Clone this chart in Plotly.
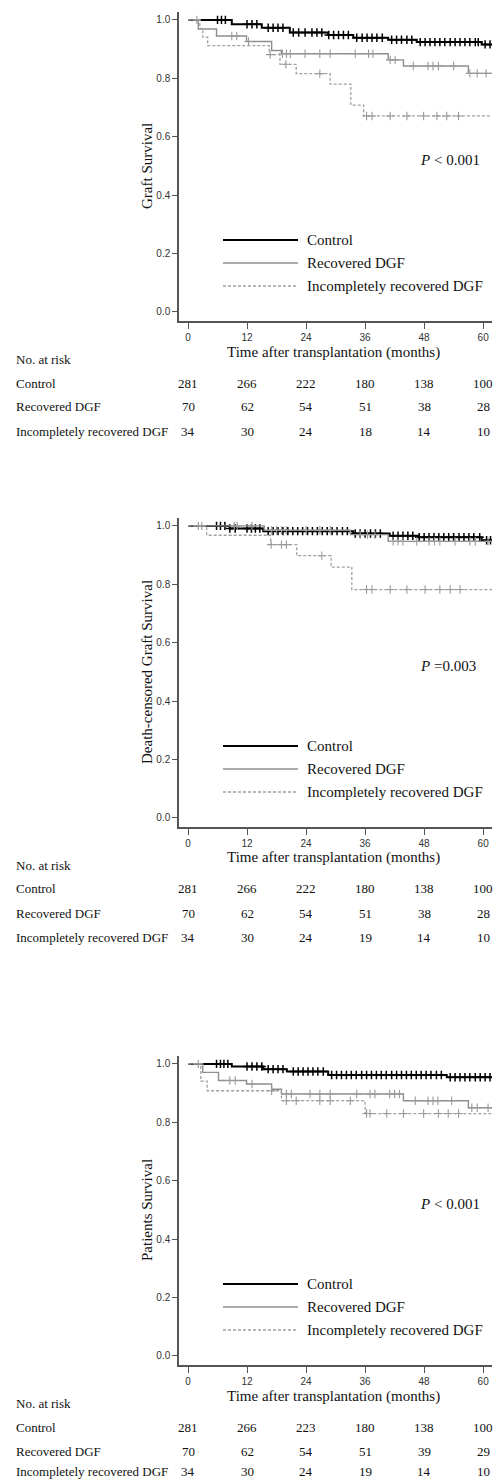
import bisect
import plotly.graph_objects as go

W, H = 497, 1481

# ---------------- data ----------------
groups = ["Control", "Recovered DGF", "Incompletely recovered DGF"]
x_ticks = [0, 12, 24, 36, 48, 60]
y_ticks = [0.0, 0.2, 0.4, 0.6, 0.8, 1.0]
y_titles = ["Graft Survival", "Death-censored Graft Survival", "Patients Survival"]
p_texts = ["<i>P</i> < 0.001", "<i>P</i> =0.003", "<i>P</i> < 0.001"]
end_time = 61.8

# Panel 1: Graft survival
p1_ctrl_t = [0, 8.9, 15.0, 20.7, 28.5, 33.6, 40.7, 46.5, 59.7]
p1_ctrl_s = [1.0, 0.985, 0.973, 0.957, 0.948, 0.939, 0.932, 0.924, 0.916]
p1_ctrl_c = [6.0, 6.8, 7.6, 12.0, 13.0, 14.0, 16.3, 17.3, 18.3, 19.3, 21.4, 22.5, 23.8,
             25.2, 26.2, 27.2, 28.6, 29.6, 30.6, 31.6, 32.6, 34.3, 35.4, 36.4, 37.4, 38.4,
             39.5, 41.4, 42.4, 43.4, 44.5, 45.5, 47.2, 48.2, 49.2, 50.2, 51.2, 52.2, 53.3,
             54.3, 55.3, 56.3, 57.3, 58.4, 59.0, 60.4, 61.4]
p1_rec_t = [0, 2.1, 5.8, 11.9, 17.0, 19.0, 40.7, 43.8, 57.0]
p1_rec_s = [1.0, 0.969, 0.945, 0.926, 0.895, 0.884, 0.863, 0.842, 0.817]
p1_rec_c = [1.8, 8.9, 9.9, 12.3, 19.2, 20.0, 20.8, 23.8, 26.8, 28.9, 34.0, 36.7, 37.6,
            41.1, 42.1, 45.8, 48.8, 49.8, 50.9, 54.0, 57.3, 58.8, 60.6]
p1_inc_t = [0, 2.4, 3.0, 4.0, 16.5, 18.7, 22.0, 28.9, 33.1, 35.7]
p1_inc_s = [1.0, 0.971, 0.941, 0.912, 0.881, 0.848, 0.816, 0.780, 0.708, 0.671]
p1_inc_c = [16.7, 19.9, 26.8, 36.3, 37.4, 41.1, 44.5, 47.9, 50.6, 52.6, 55.0]

# Panel 2: Death-censored graft survival
p2_ctrl_t = [0, 8.5, 15.3, 33.6, 41.0, 46.8, 59.7]
p2_ctrl_s = [1.0, 0.991, 0.982, 0.974, 0.966, 0.961, 0.951]
p2_ctrl_c = [5.8, 6.6, 7.5, 8.5, 9.6, 12.0, 12.9, 13.7, 14.6, 16.3, 17.3, 18.3, 19.3,
             20.3, 21.3, 22.3, 23.3, 24.3, 25.3, 26.3, 27.3, 28.3, 29.3, 30.3, 31.4, 32.4,
             34.0, 35.0, 36.0, 37.1, 38.1, 39.1, 41.7, 42.7, 43.7, 44.7, 45.7, 47.0, 48.0,
             49.0, 50.0, 51.0, 52.0, 53.0, 54.0, 55.1, 56.1, 57.1, 58.1, 59.3, 60.7, 61.5]
p2_rec_t = [0, 15.5, 33.0, 40.7]
p2_rec_s = [1.0, 0.985, 0.970, 0.947]
p2_rec_c = [2.1, 2.8, 9.4, 10.0, 13.0, 17.0, 18.0, 19.0, 20.0, 24.0, 26.8, 28.9, 35.0,
            36.5, 38.0, 41.7, 42.7, 43.7, 46.5, 49.0, 50.1, 51.2, 54.3, 57.3, 58.4, 61.0]
p2_inc_t = [0, 3.8, 16.8, 22.1, 29.1, 33.3]
p2_inc_s = [1.0, 0.968, 0.936, 0.898, 0.859, 0.782]
p2_inc_c = [16.9, 19.0, 20.0, 27.2, 36.3, 37.4, 41.1, 44.5, 48.2, 51.2, 53.3, 55.3]

# Panel 3: Patients survival
p3_ctrl_t = [0, 8.9, 15.3, 20.1, 28.5, 52.6]
p3_ctrl_s = [1.0, 0.991, 0.982, 0.974, 0.962, 0.954]
p3_ctrl_c = [5.8, 6.6, 7.3, 8.1, 12.0, 13.0, 14.0, 15.0, 16.3, 17.3, 18.3, 19.3, 21.4,
             22.4, 23.4, 24.4, 25.4, 26.4, 27.5, 29.2, 30.2, 31.2, 32.2, 33.2, 34.2, 35.3,
             36.3, 37.3, 38.3, 39.3, 40.3, 41.4, 42.4, 43.4, 44.4, 45.4, 46.4, 47.4, 48.4,
             49.4, 50.5, 51.5, 53.3, 54.3, 55.3, 56.3, 57.3, 58.4, 59.4, 60.4, 61.4]
p3_rec_t = [0, 3.0, 6.2, 11.9, 17.0, 19.0, 43.8, 57.0]
p3_rec_s = [1.0, 0.971, 0.943, 0.931, 0.913, 0.897, 0.874, 0.850]
p3_rec_c = [2.1, 8.5, 9.6, 13.0, 20.0, 21.0, 24.8, 26.8, 28.9, 34.3, 37.0, 38.0, 41.0,
            42.0, 43.0, 46.2, 48.8, 49.8, 50.8, 53.6, 57.7, 58.8, 61.0]
p3_inc_t = [0, 2.6, 3.9, 19.0, 36.0]
p3_inc_s = [1.0, 0.941, 0.908, 0.874, 0.830]
p3_inc_c = [17.0, 20.0, 22.0, 26.8, 28.9, 33.0, 36.3, 37.0, 40.4, 43.8, 47.9, 50.9, 52.9, 55.0]

# Numbers at risk
p1_risk_ctrl = [281, 266, 222, 180, 138, 100]
p1_risk_rec = [70, 62, 54, 51, 38, 28]
p1_risk_inc = [34, 30, 24, 18, 14, 10]
p2_risk_ctrl = [281, 266, 222, 180, 138, 100]
p2_risk_rec = [70, 62, 54, 51, 38, 28]
p2_risk_inc = [34, 30, 24, 19, 14, 10]
p3_risk_ctrl = [281, 266, 223, 180, 138, 100]
p3_risk_rec = [70, 62, 54, 51, 39, 29]
p3_risk_inc = [34, 30, 24, 19, 14, 10]

panels = [
    [(p1_ctrl_t, p1_ctrl_s, p1_ctrl_c), (p1_rec_t, p1_rec_s, p1_rec_c), (p1_inc_t, p1_inc_s, p1_inc_c)],
    [(p2_ctrl_t, p2_ctrl_s, p2_ctrl_c), (p2_rec_t, p2_rec_s, p2_rec_c), (p2_inc_t, p2_inc_s, p2_inc_c)],
    [(p3_ctrl_t, p3_ctrl_s, p3_ctrl_c), (p3_rec_t, p3_rec_s, p3_rec_c), (p3_inc_t, p3_inc_s, p3_inc_c)],
]
risks = [
    [p1_risk_ctrl, p1_risk_rec, p1_risk_inc],
    [p2_risk_ctrl, p2_risk_rec, p2_risk_inc],
    [p3_risk_ctrl, p3_risk_rec, p3_risk_inc],
]

# ---------------- style ----------------
SERIF = "Liberation Serif, Times New Roman, serif"
TICKFONT = "Liberation Sans Narrow, Arial Narrow, Liberation Sans, Arial, sans-serif"
line_styles = [
    dict(color="#000000", width=2.0),
    dict(color="#8e8e8e", width=1.4),
    dict(color="#a0a0a0", width=1.3, dash="3px,2px"),
]
cross_styles = [
    dict(color="#000000", lw=1.5, size=6),
    dict(color="#9a9a9a", lw=1.1, size=6),
    dict(color="#9a9a9a", lw=1.1, size=6),
]
legend_styles = [
    dict(color="#000000", width=2.2),
    dict(color="#8e8e8e", width=1.4),
    dict(color="#a0a0a0", width=1.3, dash="3px,2px"),
]

offsets = [0, 506, 1044]          # vertical pixel offset of each panel
PLOT_TOP, PLOT_BOT = 12, 321      # pixel extent of the first plot area
X_LEFT, X_RIGHT = 179, 492


def py(pix):
    return 1 - pix / H


def px(pix):
    return pix / W


fig = go.Figure()
annotations = []
shapes = []
layout_axes = {}

for i, (curves, risk) in enumerate(zip(panels, risks)):
    k = "" if i == 0 else str(i + 1)
    xa, ya = "x" + k, "y" + k
    off = offsets[i]
    for g, ((t, s, c), ls, cs) in enumerate(zip(curves, line_styles, cross_styles)):
        xs = list(t) + [end_time]
        ys = list(s) + [s[-1]]
        fig.add_trace(go.Scatter(x=xs, y=ys, mode="lines", line=dict(shape="hv", **ls),
                                 xaxis=xa, yaxis=ya, showlegend=False, hoverinfo="skip"))
        cy = [s[bisect.bisect_right(t, ct) - 1] for ct in c]
        fig.add_trace(go.Scatter(x=c, y=cy, mode="markers",
                                 marker=dict(symbol="cross-thin", size=cs["size"],
                                             line=dict(color=cs["color"], width=cs["lw"])),
                                 xaxis=xa, yaxis=ya, showlegend=False, hoverinfo="skip"))

    dom_y = [py(PLOT_BOT + off), py(PLOT_TOP + off)]
    axis_common = dict(showline=True, linecolor="#555555", linewidth=1.5, ticks="outside",
                       tickcolor="#555555", tickwidth=1.2, showgrid=False, zeroline=False,
                       tickfont=dict(family=TICKFONT, size=10, color="#333333"))
    layout_axes["xaxis" + k] = dict(domain=[px(X_LEFT), px(X_RIGHT)], range=[-1.83, 61.8],
                                    tickvals=x_ticks, ticktext=[str(v) for v in x_ticks],
                                    ticklen=6, anchor=ya, **axis_common)
    layout_axes["yaxis" + k] = dict(domain=dom_y, range=[-0.031, 1.027],
                                    tickvals=y_ticks, ticktext=[f"{v:.1f}" for v in y_ticks],
                                    ticklen=5, anchor=xa, **axis_common)

    # y-axis title
    annotations.append(dict(text=y_titles[i], xref="paper", yref="paper", x=px(147),
                            y=py(166 + off), textangle=-90, showarrow=False,
                            xanchor="center", yanchor="middle",
                            font=dict(family=SERIF, size=15, color="#111111")))
    # x-axis title
    annotations.append(dict(text="Time after transplantation (months)", xref="paper",
                            yref="paper", x=px(333), y=py(352 + off), showarrow=False,
                            xanchor="center", yanchor="middle",
                            font=dict(family=SERIF, size=15, color="#111111")))
    # P value
    annotations.append(dict(text=p_texts[i], xref="paper", yref="paper", x=px(418),
                            y=py(160 + off), showarrow=False, xanchor="left",
                            yanchor="middle", font=dict(family=SERIF, size=15, color="#111111")))
    # legend
    for g, (name, lst) in enumerate(zip(groups, legend_styles)):
        yy = py(240 + 23 * g + off)
        shapes.append(dict(type="line", xref="paper", yref="paper", x0=px(223), x1=px(298),
                           y0=yy, y1=yy, line=lst))
        annotations.append(dict(text=name, xref="paper", yref="paper", x=px(305), y=yy,
                                showarrow=False, xanchor="left", yanchor="middle",
                                font=dict(family=SERIF, size=15, color="#111111")))
    # number at risk table
    annotations.append(dict(text="No. at risk", xref="paper", yref="paper", x=px(14),
                            y=py(359 + off), showarrow=False, xanchor="left",
                            yanchor="middle", font=dict(family=SERIF, size=13, color="#111111")))
    for g, (name, row) in enumerate(zip(groups, risk)):
        yy = py(min(383 + 24 * g + off, 1471))
        annotations.append(dict(text=name, xref="paper", yref="paper", x=px(14), y=yy,
                                showarrow=False, xanchor="left", yanchor="middle",
                                font=dict(family=SERIF, size=13, color="#111111")))
        for tv, n in zip(x_ticks, row):
            annotations.append(dict(text=str(n), xref=xa, yref="paper", x=tv, y=yy,
                                    showarrow=False, xanchor="center", yanchor="middle",
                                    font=dict(family=SERIF, size=13, color="#111111")))

fig.update_layout(width=W, height=H, margin=dict(l=0, r=0, t=0, b=0),
                  paper_bgcolor="white", plot_bgcolor="white", showlegend=False,
                  annotations=annotations, shapes=shapes, **layout_axes)

fig.write_html("out.html")
